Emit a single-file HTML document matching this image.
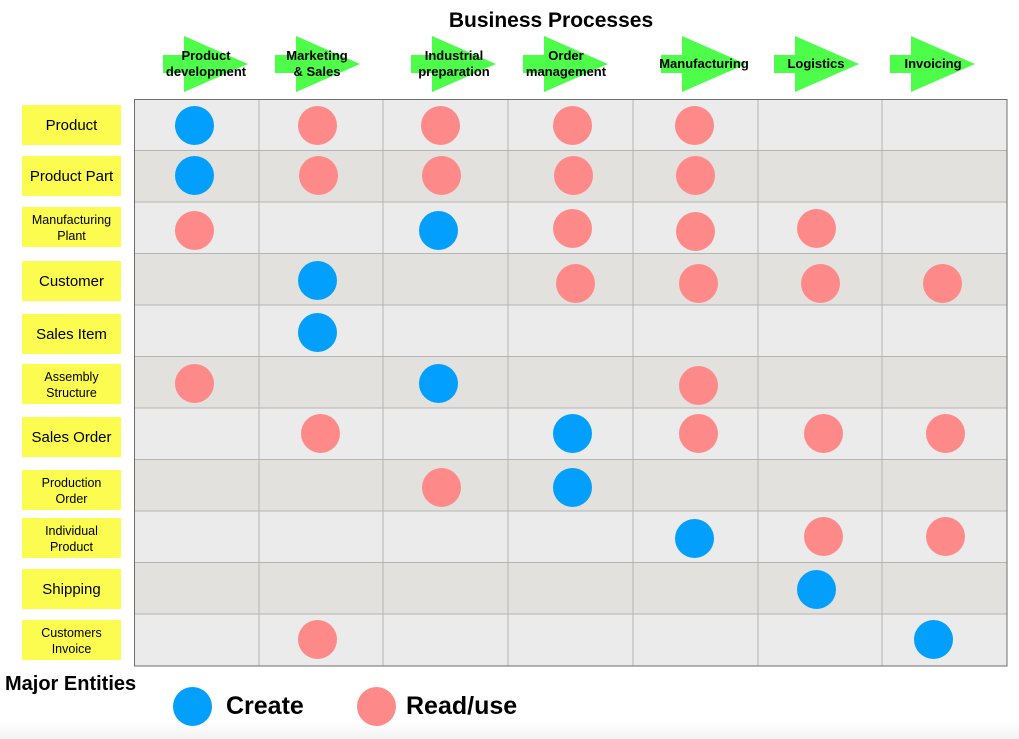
<!DOCTYPE html>
<html><head><style>
body{margin:0;width:1019px;height:739px;background:#fff;position:relative;overflow:hidden;font-family:"Liberation Sans",Arial,sans-serif}
.a{position:absolute;font-weight:bold}
.lab{position:absolute;left:22px;width:99px;height:38px;padding-top:2px;background:#fbfc4f;display:flex;align-items:center;justify-content:center;text-align:center;font-size:15px;line-height:16px}
.lab.s{font-size:12.5px;line-height:16px}
.c{position:absolute;width:39px;height:39px;border-radius:50%}
.b{background:#039ffd}.p{background:#fd8a88}
.at{position:absolute;top:48px;font-size:13px;font-weight:bold;text-align:center;line-height:16px;width:110px}
</style></head><body>
<div style="position:absolute;left:0;top:722px;width:1019px;height:17px;background:linear-gradient(#fff,#f2f2f2)"></div>
<div class="a" style="left:0;width:1102px;text-align:center;top:9px;font-size:21px">Business Processes</div>
<svg width="1019" height="739" style="position:absolute;left:0;top:0">
<g fill="#4efc4a">
<polygon points="163,55 184,55 184,36 248,64 184,92 184,73 163,73"/>
<polygon points="275,55 296,55 296,36 360,64 296,92 296,73 275,73"/>
<polygon points="411,55 432,55 432,36 496,64 432,92 432,73 411,73"/>
<polygon points="523,55 544,55 544,36 608,64 544,92 544,73 523,73"/>
<polygon points="661,55 682,55 682,36 746,64 682,92 682,73 661,73"/>
<polygon points="774,55 795,55 795,36 859,64 795,92 795,73 774,73"/>
<polygon points="890,55 911,55 911,36 975,64 911,92 911,73 890,73"/>
</g>
<g>
<rect x="134" y="99" width="873" height="51.5" fill="#ebebeb"/>
<rect x="134" y="150.5" width="873" height="51.5" fill="#e2e1dd"/>
<rect x="134" y="202" width="873" height="51.5" fill="#ebebeb"/>
<rect x="134" y="253.5" width="873" height="51.5" fill="#e2e1dd"/>
<rect x="134" y="305" width="873" height="51.5" fill="#ebebeb"/>
<rect x="134" y="356.5" width="873" height="51.5" fill="#e2e1dd"/>
<rect x="134" y="408" width="873" height="51.5" fill="#ebebeb"/>
<rect x="134" y="459.5" width="873" height="51.5" fill="#e2e1dd"/>
<rect x="134" y="511" width="873" height="51.5" fill="#ebebeb"/>
<rect x="134" y="562.5" width="873" height="51.5" fill="#e2e1dd"/>
<rect x="134" y="614" width="873" height="52" fill="#ebebeb"/>
</g>
<g stroke="#b5b5b5" stroke-width="1">
<line x1="259" y1="99" x2="259" y2="666"/><line x1="383" y1="99" x2="383" y2="666"/><line x1="508" y1="99" x2="508" y2="666"/><line x1="633" y1="99" x2="633" y2="666"/><line x1="758" y1="99" x2="758" y2="666"/><line x1="882" y1="99" x2="882" y2="666"/>
<line x1="134" y1="150.5" x2="1007" y2="150.5"/><line x1="134" y1="202" x2="1007" y2="202"/><line x1="134" y1="253.5" x2="1007" y2="253.5"/><line x1="134" y1="305" x2="1007" y2="305"/><line x1="134" y1="356.5" x2="1007" y2="356.5"/><line x1="134" y1="408" x2="1007" y2="408"/><line x1="134" y1="459.5" x2="1007" y2="459.5"/><line x1="134" y1="511" x2="1007" y2="511"/><line x1="134" y1="562.5" x2="1007" y2="562.5"/><line x1="134" y1="614" x2="1007" y2="614"/>
</g>
<rect x="134.5" y="99.5" width="872.5" height="566.5" fill="none" stroke="#6e6e6e" stroke-width="1"/>
</svg>
<div class="at" style="left:151px">Product<br>development</div>
<div class="at" style="left:262px">Marketing<br>&amp; Sales</div>
<div class="at" style="left:399px">Industrial<br>preparation</div>
<div class="at" style="left:511px">Order<br>management</div>
<div class="at" style="left:649px;top:56px">Manufacturing</div>
<div class="at" style="left:761px;top:56px">Logistics</div>
<div class="at" style="left:878px;top:56px">Invoicing</div>

<div class="lab" style="top:105px">Product</div>
<div class="lab" style="top:156px">Product Part</div>
<div class="lab s" style="top:207px">Manufacturing<br>Plant</div>
<div class="lab" style="top:261px">Customer</div>
<div class="lab" style="top:314px">Sales Item</div>
<div class="lab s" style="top:364px">Assembly<br>Structure</div>
<div class="lab" style="top:417px">Sales Order</div>
<div class="lab s" style="top:470px">Production<br>Order</div>
<div class="lab s" style="top:518px">Individual<br>Product</div>
<div class="lab" style="top:569px">Shipping</div>
<div class="lab s" style="top:620px">Customers<br>Invoice</div>

<div class="c b" style="left:175px;top:106px"></div><div class="c p" style="left:298px;top:106px"></div><div class="c p" style="left:421px;top:106px"></div><div class="c p" style="left:553px;top:106px"></div><div class="c p" style="left:675px;top:106px"></div>
<div class="c b" style="left:175px;top:156px"></div><div class="c p" style="left:299px;top:156px"></div><div class="c p" style="left:422px;top:156px"></div><div class="c p" style="left:554px;top:156px"></div><div class="c p" style="left:676px;top:156px"></div>
<div class="c p" style="left:175px;top:211px"></div><div class="c b" style="left:419px;top:211px"></div><div class="c p" style="left:553px;top:209px"></div><div class="c p" style="left:676px;top:212px"></div><div class="c p" style="left:797px;top:209px"></div>
<div class="c b" style="left:298px;top:261px"></div><div class="c p" style="left:556px;top:264px"></div><div class="c p" style="left:679px;top:264px"></div><div class="c p" style="left:801px;top:264px"></div><div class="c p" style="left:923px;top:264px"></div>
<div class="c b" style="left:298px;top:313px"></div>
<div class="c p" style="left:175px;top:364px"></div><div class="c b" style="left:419px;top:364px"></div><div class="c p" style="left:679px;top:366px"></div>
<div class="c p" style="left:301px;top:414px"></div><div class="c b" style="left:553px;top:414px"></div><div class="c p" style="left:679px;top:414px"></div><div class="c p" style="left:804px;top:414px"></div><div class="c p" style="left:926px;top:414px"></div>
<div class="c p" style="left:422px;top:468px"></div><div class="c b" style="left:553px;top:468px"></div>
<div class="c b" style="left:675px;top:519px"></div><div class="c p" style="left:804px;top:517px"></div><div class="c p" style="left:926px;top:517px"></div>
<div class="c b" style="left:797px;top:570px"></div>
<div class="c p" style="left:298px;top:620px"></div><div class="c b" style="left:914px;top:620px"></div>

<div class="a" style="left:5px;top:673px;font-size:20px">Major Entities</div>
<div class="c b" style="left:173px;top:687px"></div>
<div class="a" style="left:226px;top:692px;font-size:25px">Create</div>
<div class="c p" style="left:357px;top:687px"></div>
<div class="a" style="left:406px;top:692px;font-size:25px">Read/use</div>
</body></html>
